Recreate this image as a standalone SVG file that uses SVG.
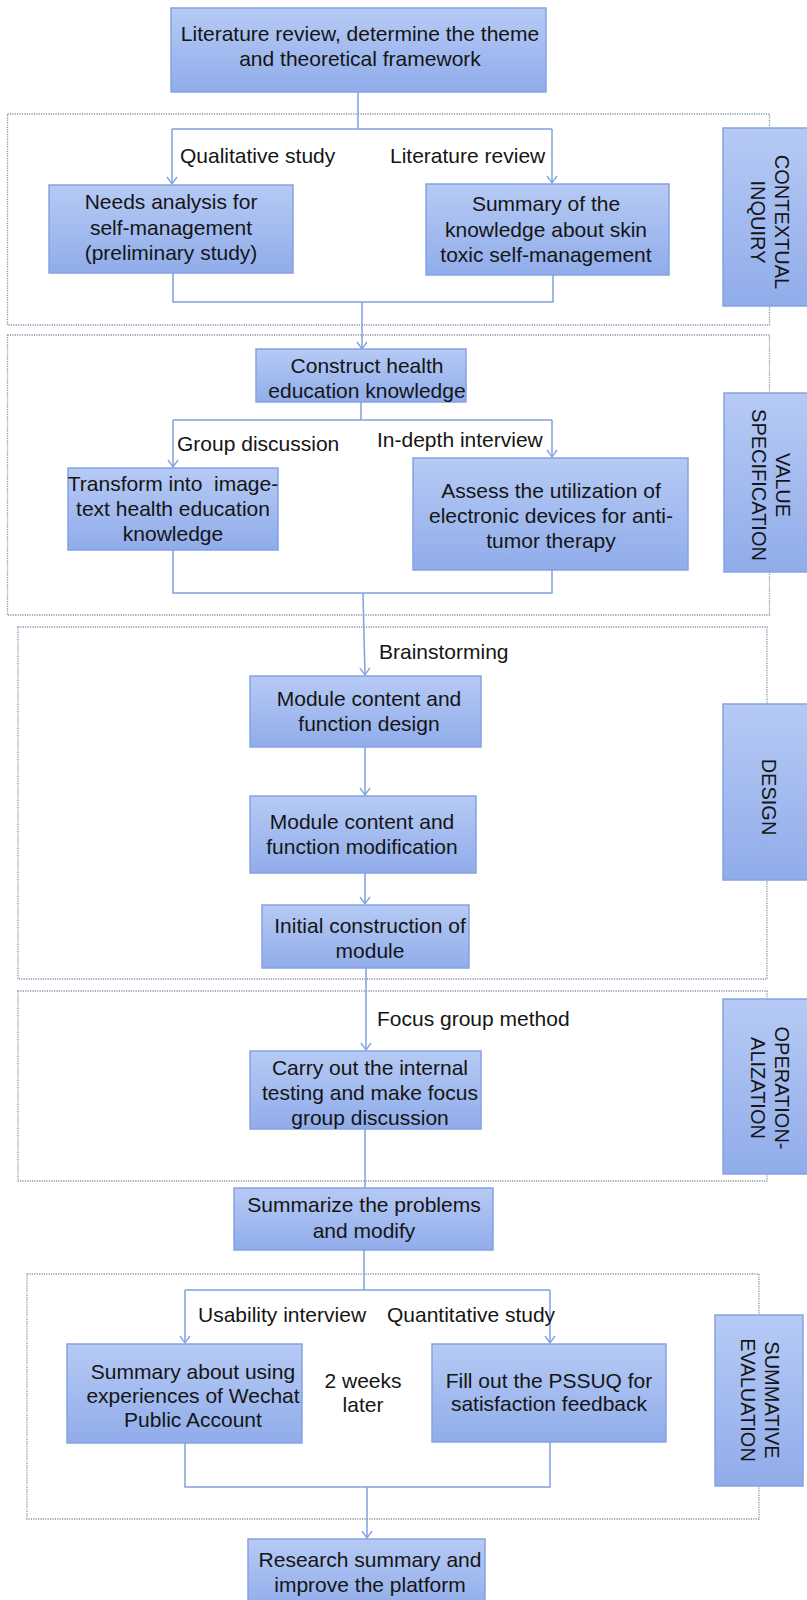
<svg xmlns="http://www.w3.org/2000/svg" width="807" height="1600" viewBox="0 0 807 1600">
<defs>
<linearGradient id="g" x1="0" y1="0" x2="0" y2="1">
<stop offset="0" stop-color="#b6caf4"/>
<stop offset="1" stop-color="#90acea"/>
</linearGradient>
<marker id="ah" viewBox="0 0 12 12" refX="10" refY="6" markerWidth="12" markerHeight="12" markerUnits="userSpaceOnUse" orient="auto">
<path d="M3,1 L10,6 L3,11" fill="none" stroke="#7ea2dc" stroke-width="1.3"/>
</marker>
<style>
.box{fill:url(#g);stroke:#85a3e2;stroke-width:1.5}
.frame{fill:none;stroke:#8592a8;stroke-width:1.3;stroke-dasharray:1.2 1.2}
.t{font-family:"Liberation Sans",Arial,sans-serif;font-size:21px;fill:#151515;text-anchor:middle}
.l{font-family:"Liberation Sans",Arial,sans-serif;font-size:21px;fill:#151515}
.r{font-family:"Liberation Sans",Arial,sans-serif;font-size:20px;fill:#151515;text-anchor:middle}
.c{fill:none;stroke:#7ea2dc;stroke-width:1.5}
</style>
</defs>
<rect width="807" height="1600" fill="#ffffff"/>
<g id="frames">
<rect class="frame" x="7.5" y="114" width="762" height="211"/>
<rect class="frame" x="7.5" y="335" width="762" height="280"/>
<rect class="frame" x="18" y="627" width="749" height="352"/>
<rect class="frame" x="18" y="991" width="749" height="190"/>
<rect class="frame" x="27" y="1274" width="732" height="245"/>
</g>
<g id="connectors">
<path class="c" d="M358,92 V129 M172,129 H552"/>
<path class="c" d="M172,129 V184" marker-end="url(#ah)"/>
<path class="c" d="M552,129 V183" marker-end="url(#ah)"/>
<path class="c" d="M173,273 V302 H553 V275"/>
<path class="c" d="M362,302 V349" marker-end="url(#ah)"/>
<path class="c" d="M361,402 V420 M173,420 H552"/>
<path class="c" d="M173,420 V467" marker-end="url(#ah)"/>
<path class="c" d="M552,420 V457" marker-end="url(#ah)"/>
<path class="c" d="M173,550 V593 H552 V570"/>
<path class="c" d="M363,593 L365,675" marker-end="url(#ah)"/>
<path class="c" d="M365,747 V795" marker-end="url(#ah)"/>
<path class="c" d="M365,873 V904" marker-end="url(#ah)"/>
<path class="c" d="M366,968 V1050" marker-end="url(#ah)"/>
<path class="c" d="M365,1129 V1188"/>
<path class="c" d="M364,1250 V1290 M185,1290 H550"/>
<path class="c" d="M185,1290 V1343" marker-end="url(#ah)"/>
<path class="c" d="M550,1290 V1343" marker-end="url(#ah)"/>
<path class="c" d="M185,1443 V1487 H550 V1442"/>
<path class="c" d="M367,1487 V1538" marker-end="url(#ah)"/>
</g>
<g id="labels">
<text class="l" x="180" y="163">Qualitative study</text>
<text class="l" x="390" y="163">Literature review</text>
<text class="l" x="177" y="451">Group discussion</text>
<text class="l" x="377" y="447">In-depth interview</text>
<text class="l" x="379" y="659">Brainstorming</text>
<text class="l" x="377" y="1026">Focus group method</text>
<text class="l" x="198" y="1322">Usability interview</text>
<text class="l" x="387" y="1322">Quantitative study</text>
<text class="t" x="363" y="1388">2 weeks</text>
<text class="t" x="363" y="1412">later</text>
</g>
<g id="n1">
<rect class="box" x="171" y="8" width="375" height="84"/>
<text class="t" x="360" y="41">Literature review, determine the theme</text>
<text class="t" x="360" y="66">and theoretical framework</text>
</g>
<g id="n2">
<rect class="box" x="49" y="185" width="244" height="88"/>
<text class="t" x="171" y="209">Needs analysis for</text>
<text class="t" x="171" y="235">self-management</text>
<text class="t" x="171" y="260">(preliminary study)</text>
</g>
<g id="n3">
<rect class="box" x="426" y="184" width="243" height="91"/>
<text class="t" x="546" y="211">Summary of the</text>
<text class="t" x="546" y="237">knowledge about skin</text>
<text class="t" x="546" y="262">toxic self-management</text>
</g>
<g id="n4">
<rect class="box" x="256" y="349" width="210" height="53"/>
<text class="t" x="367" y="373">Construct health</text>
<text class="t" x="367" y="398">education knowledge</text>
</g>
<g id="n5">
<rect class="box" x="68" y="468" width="210" height="82"/>
<text class="t" x="173" y="491" xml:space="preserve">Transform into  image-</text>
<text class="t" x="173" y="516">text health education</text>
<text class="t" x="173" y="541">knowledge</text>
</g>
<g id="n6">
<rect class="box" x="413" y="458" width="275" height="112"/>
<text class="t" x="551" y="498">Assess the utilization of</text>
<text class="t" x="551" y="523">electronic devices for anti-</text>
<text class="t" x="551" y="548">tumor therapy</text>
</g>
<g id="n7">
<rect class="box" x="250" y="676" width="231" height="71"/>
<text class="t" x="369" y="706">Module content and</text>
<text class="t" x="369" y="731">function design</text>
</g>
<g id="n8">
<rect class="box" x="250" y="796" width="226" height="77"/>
<text class="t" x="362" y="829">Module content and</text>
<text class="t" x="362" y="854">function modification</text>
</g>
<g id="n9">
<rect class="box" x="262" y="905" width="207" height="63"/>
<text class="t" x="370" y="933">Initial construction of</text>
<text class="t" x="370" y="958">module</text>
</g>
<g id="n10">
<rect class="box" x="250" y="1051" width="231" height="78"/>
<text class="t" x="370" y="1075">Carry out the internal</text>
<text class="t" x="370" y="1100">testing and make focus</text>
<text class="t" x="370" y="1125">group discussion</text>
</g>
<g id="n11">
<rect class="box" x="234" y="1188" width="259" height="62"/>
<text class="t" x="364" y="1212">Summarize the problems</text>
<text class="t" x="364" y="1238">and modify</text>
</g>
<g id="n12">
<rect class="box" x="67" y="1344" width="235" height="99"/>
<text class="t" x="193" y="1379">Summary about using</text>
<text class="t" x="193" y="1403">experiences of Wechat</text>
<text class="t" x="193" y="1427">Public Account</text>
</g>
<g id="n13">
<rect class="box" x="432" y="1344" width="234" height="98"/>
<text class="t" x="549" y="1388">Fill out the PSSUQ for</text>
<text class="t" x="549" y="1411">satisfaction feedback</text>
</g>
<g id="n14">
<rect class="box" x="248" y="1539" width="237" height="70"/>
<text class="t" x="370" y="1567">Research summary and</text>
<text class="t" x="370" y="1592">improve the platform</text>
</g>
<g id="s1">
<rect class="box" x="723" y="128" width="100" height="178"/>
<text class="r" transform="translate(775,222) rotate(90)"><tspan x="0" y="0">CONTEXTUAL</tspan><tspan x="0" y="24">INQUIRY</tspan></text>
</g>
<g id="s2">
<rect class="box" x="724" y="393" width="100" height="179"/>
<text class="r" transform="translate(776,485) rotate(90)"><tspan x="0" y="0">VALUE</tspan><tspan x="0" y="24">SPECIFICATION</tspan></text>
</g>
<g id="s3">
<rect class="box" x="723" y="704" width="100" height="176"/>
<text class="r" transform="translate(762,797) rotate(90)">DESIGN</text>
</g>
<g id="s4">
<rect class="box" x="723" y="999" width="100" height="175"/>
<text class="r" transform="translate(775,1088) rotate(90)"><tspan x="0" y="0">OPERATION-</tspan><tspan x="0" y="24">ALIZATION</tspan></text>
</g>
<g id="s5">
<rect class="box" x="715" y="1315" width="88" height="171"/>
<text class="r" transform="translate(765,1400) rotate(90)"><tspan x="0" y="0">SUMMATIVE</tspan><tspan x="0" y="24">EVALUATION</tspan></text>
</g>
</svg>
